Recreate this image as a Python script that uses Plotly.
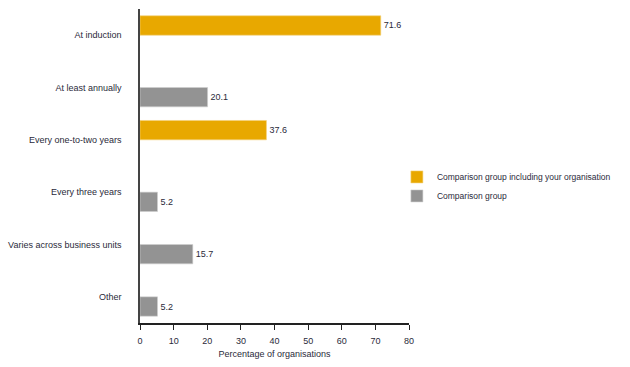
import plotly.graph_objects as go

categories = ["At induction", "At least annually", "Every one-to-two years",
              "Every three years", "Varies across business units", "Other"]
your_org = [71.6, None, 37.6, None, None, None]
comparison = [None, 20.1, None, 5.2, 15.7, 5.2]
x_ticks = [0, 10, 20, 30, 40, 50, 60, 70, 80]

FONT = "Liberation Sans, Arial, sans-serif"
ORANGE = "#E8A800"
GRAY = "#939393"
TXT = "#2a2a3a"

def labels(vals):
    return [f"{v}" if v is not None else "" for v in vals]

fig = go.Figure()
fig.add_trace(go.Bar(
    y=categories, x=your_org, orientation="h",
    name="Comparison group including your organisation",
    marker=dict(color=ORANGE, line=dict(color="#f3d27a", width=0.6)),
    text=labels(your_org), textposition="outside", cliponaxis=False,
    textfont=dict(size=9, color=TXT, family=FONT),
))
fig.add_trace(go.Bar(
    y=categories, x=comparison, orientation="h",
    name="Comparison group",
    marker=dict(color=GRAY, line=dict(color="#cfcfcf", width=0.6)),
    text=labels(comparison), textposition="outside", cliponaxis=False,
    textfont=dict(size=9, color=TXT, family=FONT),
))

fig.update_layout(
    width=630, height=367,
    margin=dict(l=140, r=221, t=9, b=44),
    paper_bgcolor="white", plot_bgcolor="white",
    barmode="group", bargap=0.26, bargroupgap=0,
    font=dict(family=FONT, size=9, color=TXT),
    showlegend=True,
    legend=dict(x=0.955, y=0.435, xanchor="left", yanchor="middle",
                font=dict(size=8.5, color=TXT, family=FONT),
                itemwidth=30, tracegroupgap=0, bgcolor="rgba(0,0,0,0)",
                borderwidth=0),
)
fig.update_xaxes(
    range=[0, 80], tickvals=x_ticks, ticktext=[str(t) for t in x_ticks],
    automargin=False,
    showgrid=False, zeroline=False, showline=True, linecolor="#222222", linewidth=1.5,
    ticks="outside", ticklen=5, tickcolor="#222222", tickwidth=1.2,
    ticklabelstandoff=3,
    tickfont=dict(size=9, color=TXT),
    title=dict(text="Percentage of organisations", font=dict(size=9, color=TXT), standoff=6),
)
fig.update_yaxes(
    autorange="reversed", showgrid=False, zeroline=False, automargin=False,
    showline=True, linecolor="#444444", linewidth=1.5,
    ticks="", ticklabelstandoff=15,
    tickfont=dict(size=9, color=TXT),
)
fig.write_html("out.html")
